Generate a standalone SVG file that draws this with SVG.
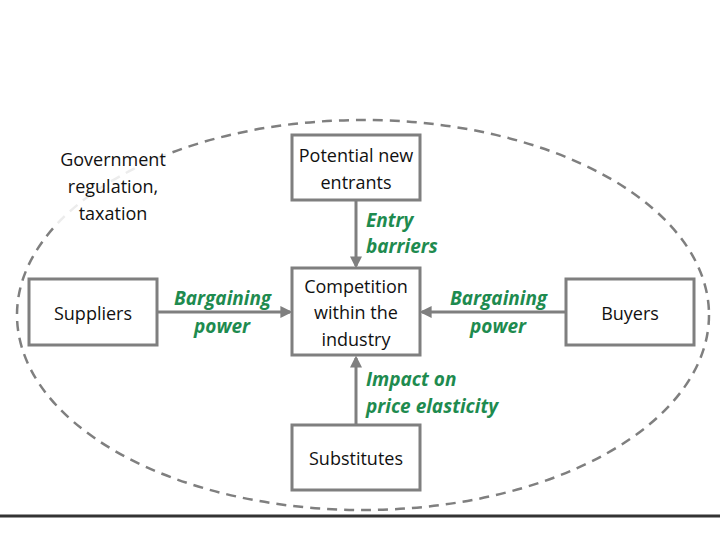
<svg xmlns="http://www.w3.org/2000/svg" width="720" height="540" viewBox="0 0 720 540">
<defs>
<style>
.box{fill:#fff;stroke:#7f7f7f;stroke-width:3}
.t{font-family:"Open Sans","Liberation Sans",sans-serif;font-size:18px;fill:#111;text-anchor:middle}
.g{font-family:"Open Sans","Liberation Sans",sans-serif;font-size:19px;font-weight:bold;font-style:italic;fill:#1e8b4f}
.c{stroke:#7f7f7f;stroke-width:3;fill:none;marker-end:url(#ah)}
</style>
<marker id="ah" viewBox="0 0 10 10" refX="8" refY="5" markerWidth="4" markerHeight="4" orient="auto" markerUnits="strokeWidth">
<path d="M0,0 L10,5 L0,10 z" fill="#7f7f7f"/>
</marker>
</defs>
<rect width="720" height="540" fill="#fff"/>
<ellipse cx="363" cy="315" rx="346" ry="195" fill="none" stroke="#7f7f7f" stroke-width="2.5" stroke-dasharray="10,7"/>
<line x1="0" y1="516" x2="720" y2="516" stroke="#333" stroke-width="3"/>
<g id="government">
<rect x="55" y="145" width="116" height="82" fill="#fff" opacity="0.85"/>
<text class="t" x="113" y="166">Government</text>
<text class="t" x="113" y="193">regulation,</text>
<text class="t" x="113" y="220">taxation</text>
</g>
<g id="connectors">
<line class="c" x1="356" y1="201" x2="356" y2="266"/>
<line class="c" x1="356" y1="424" x2="356" y2="358"/>
<line class="c" x1="158" y1="312" x2="290" y2="312"/>
<line class="c" x1="565" y1="312" x2="422" y2="312"/>
<text class="g" x="366" y="227">Entry</text>
<text class="g" x="366" y="253">barriers</text>
<text class="g" x="174" y="305">Bargaining</text>
<text class="g" x="222" y="333" text-anchor="middle">power</text>
<text class="g" x="450" y="305">Bargaining</text>
<text class="g" x="498" y="333" text-anchor="middle">power</text>
<text class="g" x="366" y="386">Impact on</text>
<text class="g" x="366" y="413">price elasticity</text>
</g>
<g id="entrants">
<rect class="box" x="292" y="135" width="128" height="65"/>
<text class="t" x="356" y="162">Potential new</text>
<text class="t" x="356" y="189">entrants</text>
</g>
<g id="competition">
<rect class="box" x="292" y="268" width="128" height="87"/>
<text class="t" x="356" y="293">Competition</text>
<text class="t" x="356" y="319">within the</text>
<text class="t" x="356" y="346">industry</text>
</g>
<g id="suppliers">
<rect class="box" x="29" y="279" width="128" height="66"/>
<text class="t" x="93" y="320">Suppliers</text>
</g>
<g id="buyers">
<rect class="box" x="566" y="279" width="128" height="66"/>
<text class="t" x="630" y="320">Buyers</text>
</g>
<g id="substitutes">
<rect class="box" x="292" y="425" width="128" height="65"/>
<text class="t" x="356" y="465">Substitutes</text>
</g>
</svg>
